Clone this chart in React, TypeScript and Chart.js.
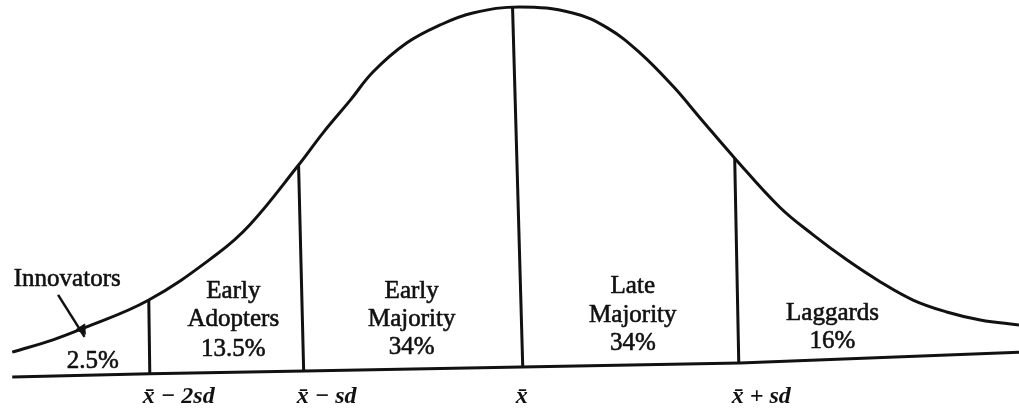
import React, { useEffect, useRef } from "react";
import { Chart, registerables } from "chart.js";

Chart.register(...registerables);

// Bell curve of adopters.
// x = position along the adoption-time axis (0-100 across the figure), y = relative frequency (peak = 100)
const curveX = [1.2, 5.2, 8.0, 14.6, 21.3, 24.5, 29.3, 31.7, 34.4, 36.6, 39.9, 43.2, 46.4, 51.0, 56.2, 59.6, 62.8, 66.1, 68.7, 72.1, 76.5, 79.8, 83.1, 86.4, 89.6, 92.9, 96.2, 100];
const curveY = [4.7, 8.1, 11.1, 19.1, 31.8, 39.8, 56.4, 65.3, 74.4, 82.1, 90.1, 95.1, 98.4, 100.1, 98.4, 94.3, 87.4, 78.0, 69.4, 58.3, 44.8, 37.1, 30.2, 24.1, 19.1, 15.8, 13.6, 12.2];

// Horizontal axis line (slightly skewed in the scanned original)
const baseX = [1.2, 14.7, 29.9, 51.2, 72.6, 100];
const baseY = [-2.2, -1.3, -0.5, 0.6, 1.7, 4.7];

// Category boundaries: x̄-2sd, x̄-sd, x̄, x̄+sd (bottom on the axis, top on the curve)
const boundaryBottomX = [14.7, 29.8, 51.3, 72.5];
const boundaryBottomY = [-1.3, -0.5, 0.6, 1.7];
const boundaryTopX = [14.6, 29.3, 50.3, 72.1];
const boundaryTopY = [19.1, 56.4, 99.9, 58.3];

// Axis ticks
const tickValues = [14.7, 29.8, 51.3, 72.5];
const tickLabels = ["x\u0304 \u2212 2sd", "x\u0304 \u2212 sd", "x\u0304", "x\u0304 + sd"];

// Adopter categories and their shares (%)
const categoryNames = [["Innovators"], ["Early", "Adopters"], ["Early", "Majority"], ["Late", "Majority"], ["Laggards"]];
const shares = [2.5, 13.5, 34, 34, 16];

// Innovators pointer arrow
const arrowX = [5.7, 8.3];
const arrowY = [20.5, 8.9];
const arrowHeadX = [8.05];
const arrowHeadY = [11.0];

// Label anchors (data units, first text baseline)
const nameAnchorX = [6.6, 22.9, 40.4, 62.1, 81.7];
const nameAnchorY = [23.0, 19.7, 19.7, 21.0, 13.6];
const shareAnchorX = [9.1, 22.9, 40.4, 62.1, 81.7];
const shareAnchorY = [0.3, 3.6, 4.2, 5.3, 5.8];

const INK = "#111111";
const LINE_GAP = 28.5;
const LABEL_FONT = '25px "Liberation Serif"';

const pts = (xs: number[], ys: number[]) => xs.map((x, i) => ({ x, y: ys[i] }));

export default function App() {
  const ref = useRef<HTMLCanvasElement>(null);

  useEffect(() => {
    const canvas = ref.current;
    if (!canvas) return;

    const labelPlugin = {
      id: "segmentLabels",
      afterDatasetsDraw(chart: any) {
        const { ctx, scales } = chart;
        const sx = scales.x;
        const sy = scales.y;
        ctx.save();
        ctx.fillStyle = INK;
        ctx.strokeStyle = INK;
        ctx.lineWidth = 0.6;
        ctx.lineJoin = "round";
        ctx.font = LABEL_FONT;
        ctx.textAlign = "center";
        ctx.textBaseline = "alphabetic";
        const put = (t: string, px: number, py: number) => {
          ctx.fillText(t, px, py);
          ctx.strokeText(t, px, py);
        };
        categoryNames.forEach((lines, i) => {
          const px = sx.getPixelForValue(nameAnchorX[i]);
          const py = sy.getPixelForValue(nameAnchorY[i]);
          lines.forEach((t, j) => put(t, px, py + j * LINE_GAP));
          put(`${shares[i]}%`, sx.getPixelForValue(shareAnchorX[i]), sy.getPixelForValue(shareAnchorY[i]));
        });
        ctx.restore();
      },
    };

    const lineStyle = {
      borderColor: INK,
      borderWidth: 3,
      pointRadius: 0,
      fill: false,
    };

    const chart = new Chart(canvas, {
      type: "line",
      data: {
        datasets: [
          { ...lineStyle, data: pts(curveX, curveY), tension: 0.4 },
          { ...lineStyle, data: pts(baseX, baseY), tension: 0 },
          ...boundaryBottomX.map((bx, i) => ({
            ...lineStyle,
            data: [
              { x: bx, y: boundaryBottomY[i] },
              { x: boundaryTopX[i], y: boundaryTopY[i] },
            ],
          })),
          { ...lineStyle, borderWidth: 2.5, data: pts(arrowX, arrowY) },
          {
            data: pts(arrowHeadX, arrowHeadY),
            showLine: false,
            pointStyle: "triangle",
            pointRadius: 6,
            pointRotation: 147,
            backgroundColor: INK,
            borderColor: INK,
            borderWidth: 1,
          },
        ] as any,
      },
      options: {
        responsive: false,
        animation: false,
        events: [],
        layout: { padding: 0, autoPadding: false },
        plugins: {
          legend: { display: false },
          tooltip: { enabled: false },
          title: { display: false },
        },
        scales: {
          x: {
            type: "linear",
            min: 0,
            max: 100,
            position: "bottom",
            grid: { display: false, drawTicks: false },
            border: { display: false },
            afterBuildTicks: (s: any) => {
              s.ticks = tickValues.map((v) => ({ value: v }));
            },
            afterFit: (s: any) => {
              s.height = 35;
            },
            ticks: {
              autoSkip: false,
              maxRotation: 0,
              minRotation: 0,
              align: "start",
              labelOffset: -7,
              padding: 2,
              color: INK,
              font: { family: "Liberation Serif", size: 24, style: "italic", weight: "bold" },
              callback: (_v: any, i: number) => tickLabels[i],
            },
          },
          y: { type: "linear", display: false, min: -3, max: 102 },
        },
      } as any,
      plugins: [labelPlugin],
    });

    return () => chart.destroy();
  }, []);

  return (
    <div style={{ position: "absolute", left: 0, top: 0, width: 1019, height: 415, background: "#fff" }}>
      <canvas ref={ref} width={1019} height={415} style={{ display: "block" }} />
    </div>
  );
}
